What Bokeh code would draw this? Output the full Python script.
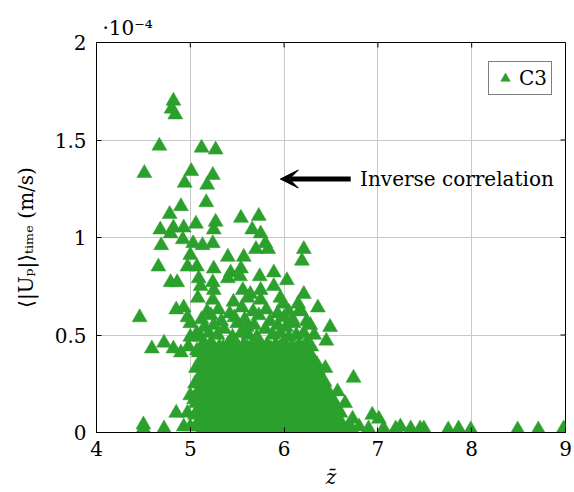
import math
from bokeh.plotting import figure
from bokeh.models import (Range1d, FixedTicker, CustomJSTickFormatter,
                          Label, Arrow, VeeHead, Legend, LegendItem, ColumnDataSource)
from bokeh.embed import file_html
from bokeh.resources import INLINE

FONT = "DejaVu Serif"
GREEN = "#2ca02c"

# axis ticks
x_ticks = [4, 5, 6, 7, 8, 9]
y_ticks = [0, 0.5, 1, 1.5, 2]          # in units of 1e-4 m/s

# sparse / outlying points (z_bar, <|U_p|>_time in 1e-4 m/s)
outer_z = [4.82, 4.80, 4.84, 4.67, 5.12, 5.27, 4.51, 5.01, 5.24, 4.94, 5.18, 5.17, 4.90, 4.78,
           5.54, 5.73, 5.06, 5.27, 4.68, 4.82, 4.93, 4.79, 5.25, 5.66, 5.75, 4.92, 4.69, 5.03,
           5.13, 5.24, 5.80, 5.70, 5.83, 5.00, 5.40, 5.57, 6.21, 6.19, 4.66, 4.97, 5.07, 5.25,
           5.43, 5.54, 5.40, 5.53, 5.74, 5.89, 6.03, 5.09, 5.24, 4.79, 4.86, 5.11, 5.25, 5.56,
           5.64, 5.75, 5.89, 6.21, 5.08, 5.24, 5.46, 5.61, 5.75, 5.96, 5.99, 6.15, 6.36, 4.93,
           6.17, 4.46, 4.85, 4.59, 4.72, 4.82, 4.90, 5.00, 5.00, 5.07, 4.50, 4.50, 4.72, 4.85,
           4.97, 5.00, 5.07, 4.93, 5.00, 4.97, 4.98, 5.07, 6.28, 6.49, 6.32, 6.45, 6.29, 6.44,
           6.35, 6.74, 6.57, 6.65, 6.73, 6.94, 7.01, 7.06, 7.19, 7.24, 7.35, 7.45, 7.49, 7.75,
           7.86, 7.99, 8.49, 8.71, 8.98, 6.90, 6.80, 6.18]
outer_u = [1.70, 1.66, 1.63, 1.47, 1.46, 1.45, 1.33, 1.34, 1.32, 1.28, 1.27, 1.18, 1.16, 1.12,
           1.10, 1.11, 1.07, 1.08, 1.04, 1.05, 1.05, 1.02, 1.04, 1.04, 1.02, 0.99, 0.96, 0.97,
           0.96, 0.97, 0.97, 0.94, 0.94, 0.91, 0.90, 0.90, 0.94, 0.88, 0.85, 0.85, 0.85, 0.84,
           0.82, 0.84, 0.79, 0.80, 0.80, 0.82, 0.78, 0.79, 0.77, 0.77, 0.77, 0.75, 0.73, 0.73,
           0.71, 0.73, 0.75, 0.71, 0.69, 0.68, 0.67, 0.69, 0.68, 0.69, 0.66, 0.66, 0.64, 0.64,
           0.63, 0.59, 0.63, 0.43, 0.46, 0.43, 0.41, 0.56, 0.49, 0.42, 0.04, 0.02, 0.02, 0.10,
           0.10, 0.19, 0.20, 0.03, 0.03, 0.59, 0.44, 0.51, 0.55, 0.54, 0.50, 0.47, 0.44, 0.33,
           0.35, 0.28, 0.21, 0.15, 0.07, 0.09, 0.07, 0.02, 0.02, 0.03, 0.02, 0.02, 0.02, 0.015,
           0.02, 0.015, 0.015, 0.015, 0.02, 0.02, 0.03, 0.62]

# dense core of the cloud
core_z = [5.12, 5.21, 5.30, 5.38, 5.47, 5.55, 5.63, 5.72, 5.80, 5.88, 5.97, 6.05, 6.13, 6.22, 6.30, 6.38, 6.47, 6.55, 6.64, 6.72,
          5.08, 5.18, 5.27, 5.36, 5.44, 5.53, 5.61, 5.70, 5.78, 5.86, 5.95, 6.03, 6.11, 6.20, 6.28, 6.36, 6.45, 6.53, 6.62,
          5.05, 5.14, 5.23, 5.32, 5.41, 5.49, 5.58, 5.66, 5.75, 5.83, 5.92, 6.00, 6.08, 6.17, 6.25, 6.34, 6.42, 6.51, 6.60,
          5.10, 5.19, 5.28, 5.37, 5.46, 5.54, 5.63, 5.71, 5.80, 5.88, 5.97, 6.05, 6.14, 6.22, 6.31, 6.39, 6.48, 6.56,
          5.04, 5.13, 5.22, 5.31, 5.40, 5.48, 5.57, 5.65, 5.74, 5.82, 5.91, 5.99, 6.08, 6.16, 6.25, 6.33, 6.42, 6.52,
          5.09, 5.18, 5.27, 5.35, 5.44, 5.52, 5.61, 5.69, 5.78, 5.86, 5.95, 6.03, 6.12, 6.20, 6.29, 6.37, 6.46,
          5.05, 5.14, 5.23, 5.32, 5.40, 5.49, 5.57, 5.66, 5.74, 5.83, 5.91, 6.00, 6.08, 6.17, 6.25, 6.34, 6.43,
          5.10, 5.19, 5.28, 5.36, 5.45, 5.53, 5.62, 5.70, 5.79, 5.87, 5.96, 6.04, 6.13, 6.21, 6.30, 6.39,
          5.06, 5.15, 5.24, 5.33, 5.41, 5.50, 5.58, 5.67, 5.75, 5.84, 5.92, 6.01, 6.09, 6.18, 6.27, 6.36,
          5.11, 5.20, 5.29, 5.38, 5.46, 5.55, 5.63, 5.72, 5.80, 5.89, 5.97, 6.06, 6.14, 6.23, 6.31,
          5.09, 5.17, 5.26, 5.35, 5.43, 5.52, 5.60, 5.69, 5.77, 5.86, 5.94, 6.03, 6.11, 6.20, 6.27,
          5.13, 5.22, 5.31, 5.40, 5.48, 5.57, 5.65, 5.74, 5.82, 5.91, 5.99, 6.08, 6.16, 6.24,
          5.11, 5.20, 5.29, 5.45, 5.54, 5.62, 5.71, 5.88, 5.96, 6.05, 6.13, 6.21,
          5.15, 5.25, 5.36, 5.50, 5.60, 5.68, 5.80, 5.93, 6.02, 6.10,
          5.12, 5.22, 5.33, 5.47, 5.58, 5.73, 5.85, 6.00, 6.09, 6.24,
          5.18, 5.30, 5.42, 5.55, 5.67, 5.81, 5.93, 6.05]
core_u = [0.01, 0.02, 0.01, 0.015, 0.01, 0.02, 0.01, 0.01, 0.02, 0.01, 0.015, 0.01, 0.02, 0.01, 0.01, 0.02, 0.01, 0.015, 0.01, 0.02,
          0.05, 0.06, 0.04, 0.05, 0.06, 0.05, 0.04, 0.06, 0.05, 0.05, 0.06, 0.04, 0.05, 0.06, 0.05, 0.04, 0.06, 0.05, 0.04,
          0.09, 0.10, 0.08, 0.09, 0.10, 0.09, 0.08, 0.10, 0.09, 0.09, 0.10, 0.08, 0.09, 0.10, 0.09, 0.08, 0.10, 0.09, 0.10,
          0.13, 0.14, 0.12, 0.13, 0.14, 0.13, 0.12, 0.14, 0.13, 0.13, 0.14, 0.12, 0.13, 0.14, 0.13, 0.12, 0.14, 0.13,
          0.17, 0.18, 0.16, 0.17, 0.18, 0.17, 0.16, 0.18, 0.17, 0.17, 0.18, 0.16, 0.17, 0.18, 0.17, 0.16, 0.18, 0.17,
          0.21, 0.22, 0.20, 0.21, 0.22, 0.21, 0.20, 0.22, 0.21, 0.21, 0.22, 0.20, 0.21, 0.22, 0.21, 0.20, 0.22,
          0.25, 0.26, 0.24, 0.25, 0.26, 0.25, 0.24, 0.26, 0.25, 0.25, 0.26, 0.24, 0.25, 0.26, 0.25, 0.24, 0.26,
          0.29, 0.30, 0.28, 0.29, 0.30, 0.29, 0.28, 0.30, 0.29, 0.29, 0.30, 0.28, 0.29, 0.30, 0.29, 0.28,
          0.33, 0.34, 0.32, 0.33, 0.34, 0.33, 0.32, 0.34, 0.33, 0.33, 0.34, 0.32, 0.33, 0.34, 0.33, 0.32,
          0.37, 0.38, 0.36, 0.37, 0.38, 0.37, 0.36, 0.38, 0.37, 0.37, 0.38, 0.36, 0.37, 0.38, 0.37,
          0.41, 0.42, 0.40, 0.41, 0.42, 0.41, 0.40, 0.42, 0.41, 0.41, 0.42, 0.40, 0.41, 0.42, 0.41,
          0.45, 0.46, 0.44, 0.45, 0.46, 0.45, 0.44, 0.46, 0.45, 0.45, 0.46, 0.44, 0.45, 0.46,
          0.49, 0.51, 0.50, 0.49, 0.51, 0.50, 0.49, 0.50, 0.51, 0.49, 0.50, 0.51,
          0.54, 0.55, 0.53, 0.56, 0.54, 0.55, 0.53, 0.55, 0.54, 0.56,
          0.58, 0.60, 0.57, 0.59, 0.58, 0.60, 0.57, 0.59, 0.58, 0.57,
          0.62, 0.63, 0.61, 0.64, 0.62, 0.63, 0.61, 0.62]

# further points filling the densest part of the cloud
fill_z = [5.10, 5.17, 5.25, 5.34, 5.42, 5.51, 5.59, 5.67, 5.76, 5.84, 5.92, 6.01, 6.09, 6.18, 6.26, 6.34, 6.43, 6.51, 6.60, 6.68,
          5.13, 5.22, 5.31, 5.40, 5.49, 5.57, 5.66, 5.74, 5.82, 5.91, 5.99, 6.07, 6.16, 6.24, 6.32, 6.41, 6.49, 6.58,
          5.09, 5.18, 5.27, 5.36, 5.45, 5.53, 5.62, 5.70, 5.79, 5.87, 5.96, 6.04, 6.12, 6.21, 6.29, 6.38, 6.46, 6.54,
          5.06, 5.15, 5.24, 5.33, 5.42, 5.50, 5.59, 5.67, 5.76, 5.84, 5.93, 6.01, 6.10, 6.18, 6.27, 6.35, 6.44, 6.53,
          5.08, 5.17, 5.26, 5.35, 5.44, 5.52, 5.61, 5.69, 5.78, 5.86, 5.95, 6.03, 6.12, 6.20, 6.29, 6.37, 6.47,
          5.13, 5.22, 5.31, 5.39, 5.48, 5.56, 5.65, 5.73, 5.82, 5.90, 5.99, 6.07, 6.16, 6.24, 6.33, 6.41,
          5.09, 5.18, 5.27, 5.36, 5.44, 5.53, 5.61, 5.70, 5.78, 5.87, 5.95, 6.04, 6.12, 6.21, 6.29, 6.37,
          5.14, 5.23, 5.32, 5.40, 5.49, 5.57, 5.66, 5.74, 5.83, 5.91, 6.00, 6.08, 6.17, 6.25, 6.33,
          5.10, 5.19, 5.28, 5.37, 5.45, 5.54, 5.62, 5.71, 5.79, 5.88, 5.96, 6.05, 6.13, 6.22, 6.30,
          5.15, 5.24, 5.33, 5.42, 5.50, 5.59, 5.67, 5.76, 5.84, 5.93, 6.01, 6.10, 6.18, 6.26,
          5.17, 5.26, 5.35, 5.44, 5.52, 5.61, 5.69, 5.78, 5.86, 5.95, 6.03, 6.12, 6.20]
fill_u = [0.03, 0.03, 0.035, 0.03, 0.025, 0.03, 0.035, 0.03, 0.03, 0.025, 0.03, 0.035, 0.03, 0.03, 0.025, 0.03, 0.035, 0.03, 0.03, 0.025,
          0.07, 0.075, 0.07, 0.065, 0.07, 0.075, 0.07, 0.07, 0.065, 0.07, 0.075, 0.07, 0.07, 0.065, 0.07, 0.075, 0.07, 0.065,
          0.11, 0.11, 0.115, 0.105, 0.11, 0.115, 0.11, 0.105, 0.11, 0.11, 0.115, 0.11, 0.105, 0.11, 0.115, 0.11, 0.105, 0.11,
          0.15, 0.155, 0.15, 0.145, 0.15, 0.155, 0.15, 0.145, 0.15, 0.155, 0.15, 0.145, 0.15, 0.155, 0.15, 0.145, 0.15, 0.15,
          0.19, 0.19, 0.195, 0.185, 0.19, 0.195, 0.19, 0.185, 0.19, 0.19, 0.195, 0.185, 0.19, 0.195, 0.19, 0.185, 0.19,
          0.23, 0.235, 0.23, 0.225, 0.23, 0.235, 0.23, 0.225, 0.23, 0.235, 0.23, 0.225, 0.23, 0.235, 0.23, 0.225,
          0.27, 0.27, 0.275, 0.265, 0.27, 0.275, 0.27, 0.265, 0.27, 0.27, 0.275, 0.265, 0.27, 0.275, 0.27, 0.265,
          0.31, 0.315, 0.31, 0.305, 0.31, 0.315, 0.31, 0.305, 0.31, 0.315, 0.31, 0.305, 0.31, 0.315, 0.31,
          0.35, 0.35, 0.355, 0.345, 0.35, 0.355, 0.35, 0.345, 0.35, 0.35, 0.355, 0.345, 0.35, 0.355, 0.35,
          0.39, 0.395, 0.39, 0.385, 0.39, 0.395, 0.39, 0.385, 0.39, 0.395, 0.39, 0.385, 0.39, 0.395,
          0.43, 0.43, 0.435, 0.425, 0.43, 0.435, 0.43, 0.425, 0.43, 0.43, 0.435, 0.425, 0.43]

series_name = "C3"
annotation_text = "Inverse correlation"
multiplier_text = "\u00b710\u207b\u2074"

z_all = outer_z + core_z + fill_z
u_all = outer_u + core_u + fill_u
src = ColumnDataSource(data=dict(z=z_all, u=u_all))

x_lo, x_hi = x_ticks[0], x_ticks[-1]
y_lo, y_hi = y_ticks[0], y_ticks[-1]

p = figure(width=574, height=492, output_backend="svg", toolbar_location=None,
           x_range=Range1d(x_lo, x_hi), y_range=Range1d(y_lo, y_hi),
           min_border_left=96, min_border_right=9, min_border_top=42, min_border_bottom=60,
           background_fill_color="white", border_fill_color="white")

# multiplier shown as a left-aligned title just above the frame
p.title.text = multiplier_text
p.title.align = "left"
p.title.offset = 6
p.title.text_font = FONT
p.title.text_font_size = "20px"
p.title.text_font_style = "normal"
p.title.text_color = "black"
p.title.standoff = 6

r = p.scatter("z", "u", source=src, marker="triangle", size=15,
              fill_color=GREEN, line_color=GREEN, line_width=0.5)

# inward tick marks on the top and right frame edges (half clipped by the frame)
p.scatter(x=x_ticks, y=[y_hi] * len(x_ticks), marker="dash", angle=math.pi / 2,
          size=10, line_color="black", line_width=1)
p.scatter(x=[x_hi] * len(y_ticks), y=y_ticks, marker="dash",
          size=10, line_color="black", line_width=1)

p.outline_line_color = "black"
p.outline_line_width = 1

for ax in (p.xaxis[0], p.yaxis[0]):
    ax.major_label_text_font = FONT
    ax.major_label_text_font_size = "20px"
    ax.major_label_text_color = "black"
    ax.axis_label_text_font = FONT
    ax.axis_label_text_font_size = "20px"
    ax.axis_label_text_font_style = "normal"
    ax.axis_label_text_color = "black"
    ax.major_tick_in = 5
    ax.major_tick_out = 0
    ax.minor_tick_line_color = None
    ax.major_tick_line_color = "black"
    ax.axis_line_color = "black"

p.xaxis[0].ticker = FixedTicker(ticks=x_ticks)
p.yaxis[0].ticker = FixedTicker(ticks=y_ticks)
p.yaxis[0].formatter = CustomJSTickFormatter(code="return tick.toString();")
p.xaxis[0].axis_label = "z\u0304"
p.xaxis[0].axis_label_text_font_style = "italic"
p.xaxis[0].major_label_standoff = 8
p.xaxis[0].axis_label_standoff = 6
p.yaxis[0].axis_label = "\u27e8|U\u209a|\u27e9\u209c\u1d62\u2098\u2091 (m/s)"
p.yaxis[0].major_label_standoff = 10
p.yaxis[0].axis_label_standoff = 14

p.xgrid.ticker = FixedTicker(ticks=x_ticks)
p.ygrid.ticker = FixedTicker(ticks=y_ticks)
p.xgrid.grid_line_color = "#c8c8c8"
p.ygrid.grid_line_color = "#c8c8c8"
p.xgrid.grid_line_width = 1
p.ygrid.grid_line_width = 1

# annotation arrow + text
p.add_layout(Arrow(x_start=6.71, y_start=1.30, x_end=5.96, y_end=1.30,
                   line_width=5, line_color="black",
                   end=VeeHead(size=18, fill_color="black", line_color="black", line_width=1)))
p.add_layout(Label(x=6.81, y=1.30, text=annotation_text, text_font=FONT,
                   text_font_size="20px", text_baseline="middle", text_color="black"))

legend = Legend(items=[LegendItem(label=series_name, renderers=[r])],
                location=(392, 337), border_line_color="black", border_line_width=1,
                label_text_font=FONT, label_text_font_size="20px", label_text_color="black",
                glyph_width=24, glyph_height=24, padding=4, margin=0,
                label_standoff=2, background_fill_alpha=1.0)
p.add_layout(legend)

open("out.html", "w").write(file_html(p, INLINE))
